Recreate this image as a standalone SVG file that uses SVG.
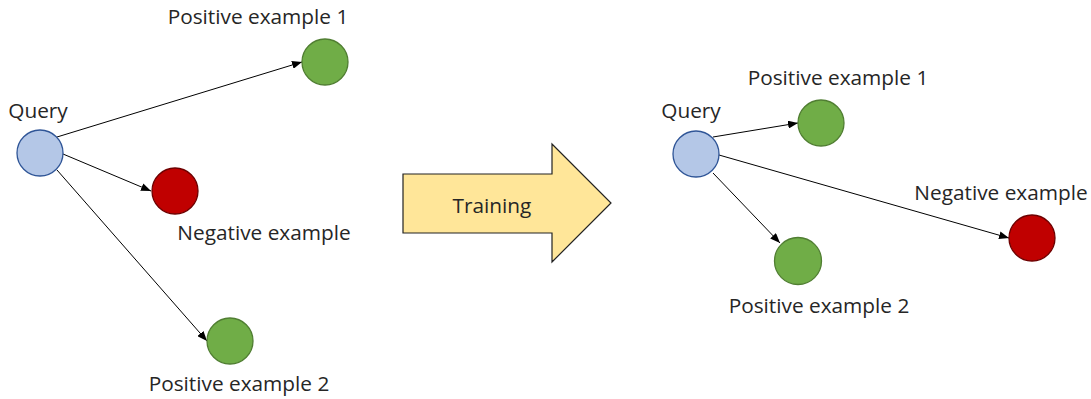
<svg xmlns="http://www.w3.org/2000/svg" width="1091" height="399" viewBox="0 0 1091 399">
<style>
text{font-family:"Open Sans","Noto Sans","Liberation Sans",sans-serif;font-size:20.8px;fill:#262626;text-anchor:middle}
.q{fill:#B4C7E7;stroke:#2F5597;stroke-width:1.3}
.pos{fill:#70AD47;stroke:#507E32;stroke-width:1.3}
.neg{fill:#C00000;stroke:#6E0000;stroke-width:1.3}
.edge{stroke:#000;stroke-width:1;fill:none;marker-end:url(#ah)}
</style>
<defs>
<marker id="ah" markerUnits="userSpaceOnUse" markerWidth="11" markerHeight="8" refX="10" refY="4" orient="auto">
<path d="M0,0 L10,4 L0,8 Z" fill="#000"/>
</marker>
</defs>
<rect width="1091" height="399" fill="#fff"/>
<g id="connectors">
<line class="edge" x1="57" y1="137" x2="302" y2="62"/>
<line class="edge" x1="63" y1="154" x2="151" y2="191"/>
<line class="edge" x1="57" y1="170" x2="207" y2="341"/>
<line class="edge" x1="713" y1="137" x2="798" y2="123"/>
<line class="edge" x1="719" y1="155" x2="1009" y2="238"/>
<line class="edge" x1="713" y1="173" x2="780" y2="243"/>
</g>
<g id="query-left"><circle class="q" cx="40" cy="153" r="23"/><text x="38" y="118">Query</text></g>
<g id="pos1-left"><circle class="pos" cx="325" cy="62" r="23"/><text x="258" y="24">Positive example 1</text></g>
<g id="neg-left"><circle class="neg" cx="175" cy="191" r="23"/><text x="264" y="240">Negative example</text></g>
<g id="pos2-left"><circle class="pos" cx="230" cy="341" r="23"/><text x="239" y="391">Positive example 2</text></g>
<g id="training"><path d="M403,174 H552 V144 L611,203 L552,262 V233 H403 Z" fill="#FFE699" stroke="#222" stroke-width="1.2"/><text x="492" y="213">Training</text></g>
<g id="query-right"><circle class="q" cx="696" cy="154" r="23"/><text x="691" y="118">Query</text></g>
<g id="pos1-right"><circle class="pos" cx="821" cy="123" r="23"/><text x="838" y="85">Positive example 1</text></g>
<g id="neg-right"><circle class="neg" cx="1032" cy="238" r="23"/><text x="1001" y="200">Negative example</text></g>
<g id="pos2-right"><circle class="pos" cx="798" cy="261" r="23.5"/><text x="819" y="313">Positive example 2</text></g>
</svg>
